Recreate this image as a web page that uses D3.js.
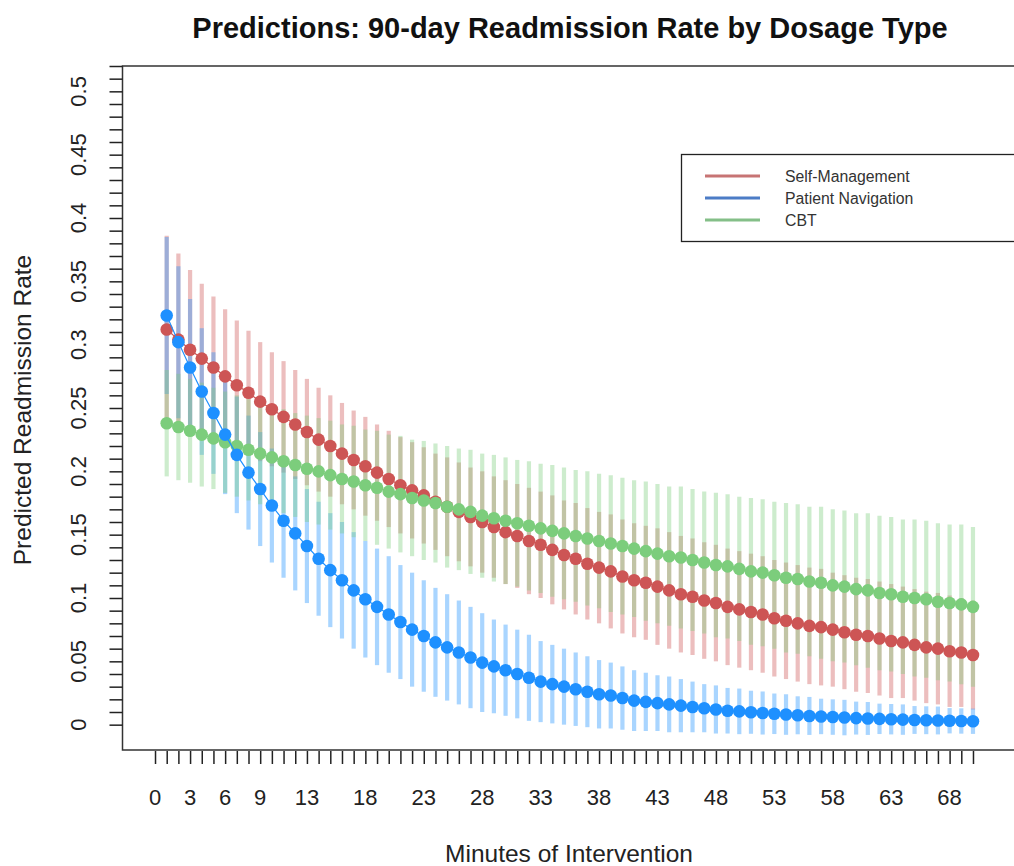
<!DOCTYPE html>
<html lang="en">
<head>
<meta charset="utf-8">
<title>Readmission predictions</title>
<script type="text/javascript" src="https://d3js.org/d3.v7.min.js"></script>
<style>
  body { margin: 0; background: #fff; }
  svg { display: block; font-family: "Liberation Sans", Arial, sans-serif; }
  .ticks line { stroke: #222; }
  .ticks path { display: none; }
</style>
</head>
<body>
<div id="container"></div>
<script type="text/javascript">
// minutes of intervention (x) and predicted rates (y), with CI half-widths
var minutes = [1,2,3,4,5,6,7,8,9,10,11,12,13,14,15,16,17,18,19,20,
  21,22,23,24,25,26,27,28,29,30,31,32,33,34,35,36,37,38,39,40,
  41,42,43,44,45,46,47,48,49,50,51,52,53,54,55,56,57,58,59,60,
  61,62,63,64,65,66,67,68,69,70];

var selfMgmt = [0.312,0.304,0.296,0.289,0.282,0.275,0.268,0.262,0.255,0.249,
  0.243,0.237,0.231,0.225,0.220,0.214,0.209,0.204,0.199,0.194,
  0.189,0.185,0.181,0.176,0.172,0.168,0.164,0.160,0.156,0.152,
  0.149,0.145,0.142,0.138,0.134,0.131,0.127,0.124,0.121,0.117,
  0.114,0.112,0.109,0.106,0.103,0.101,0.098,0.096,0.093,0.091,
  0.089,0.087,0.084,0.082,0.080,0.078,0.077,0.075,0.073,0.071,
  0.070,0.068,0.066,0.065,0.063,0.061,0.060,0.058,0.057,0.055];
var selfMgmtErr = [0.074,0.068,0.063,0.059,0.056,0.053,0.051,0.049,0.047,0.045,
  0.044,0.043,0.042,0.041,0.040,0.040,0.039,0.039,0.038,0.038,
  0.038,0.038,0.038,0.038,0.039,0.039,0.039,0.040,0.040,0.041,
  0.041,0.042,0.042,0.043,0.043,0.044,0.044,0.044,0.045,0.045,
  0.045,0.045,0.046,0.046,0.046,0.046,0.046,0.046,0.046,0.046,
  0.046,0.046,0.046,0.046,0.046,0.046,0.046,0.045,0.045,0.045,
  0.045,0.045,0.045,0.044,0.044,0.044,0.044,0.044,0.043,0.043];

var patientNav = [0.323,0.302,0.282,0.263,0.246,0.229,0.213,0.199,0.186,0.173,
  0.161,0.151,0.141,0.131,0.122,0.114,0.106,0.099,0.093,0.087,
  0.081,0.075,0.070,0.065,0.061,0.057,0.053,0.049,0.046,0.043,
  0.040,0.037,0.034,0.032,0.030,0.028,0.026,0.024,0.023,0.021,
  0.019,0.018,0.017,0.016,0.015,0.014,0.013,0.012,0.011,0.0105,
  0.0098,0.0092,0.0086,0.0080,0.0074,0.0069,0.0065,0.0060,0.0056,0.0052,
  0.0049,0.0046,0.0043,0.0040,0.0037,0.0035,0.0033,0.0031,0.0029,0.0027];
var patientNavErr = [0.062,0.060,0.054,0.050,0.048,0.047,0.046,0.045,0.045,0.045,
  0.045,0.045,0.045,0.045,0.045,0.046,0.046,0.046,0.046,0.046,
  0.045,0.045,0.044,0.043,0.042,0.041,0.040,0.039,0.037,0.036,
  0.035,0.034,0.032,0.031,0.030,0.029,0.028,0.027,0.026,0.025,
  0.024,0.023,0.022,0.022,0.021,0.020,0.019,0.019,0.018,0.018,
  0.017,0.017,0.016,0.016,0.015,0.015,0.014,0.014,0.014,0.013,
  0.013,0.012,0.012,0.012,0.011,0.011,0.011,0.010,0.010,0.010];

var cbt = [0.238,0.235,0.232,0.229,0.226,0.223,0.220,0.217,0.214,0.211,
  0.208,0.205,0.202,0.200,0.197,0.194,0.192,0.189,0.187,0.184,
  0.182,0.179,0.177,0.175,0.172,0.170,0.168,0.165,0.163,0.161,
  0.159,0.157,0.155,0.153,0.151,0.149,0.147,0.145,0.143,0.141,
  0.139,0.137,0.135,0.133,0.132,0.130,0.128,0.126,0.125,0.123,
  0.121,0.120,0.118,0.116,0.115,0.113,0.112,0.110,0.109,0.107,
  0.106,0.104,0.103,0.101,0.100,0.099,0.097,0.096,0.095,0.093];
var cbtErr = [0.042,0.042,0.041,0.041,0.040,0.040,0.040,0.040,0.040,0.040,
  0.041,0.041,0.042,0.042,0.043,0.043,0.044,0.044,0.045,0.045,
  0.046,0.046,0.047,0.047,0.048,0.048,0.049,0.049,0.050,0.050,
  0.050,0.051,0.051,0.052,0.052,0.052,0.053,0.053,0.054,0.054,
  0.054,0.055,0.055,0.055,0.056,0.056,0.056,0.057,0.057,0.057,
  0.058,0.058,0.058,0.059,0.059,0.059,0.060,0.060,0.060,0.060,
  0.061,0.061,0.061,0.061,0.062,0.062,0.062,0.062,0.063,0.063];

var seriesNames = ["Self-Management", "Patient Navigation", "CBT"];
var yTickLabels = [0, 0.05, 0.1, 0.15, 0.2, 0.25, 0.3, 0.35, 0.4, 0.45, 0.5];
var xTickLabels = [0, 3, 6, 9, 13, 18, 23, 28, 33, 38, 43, 48, 53, 58, 63, 68];

var w = 1014, h = 866;
var svg = d3.select("div#container").append("svg")
    .attr("width", w).attr("height", h);

var x = d3.scaleLinear().domain([-2.8, 72.8]).range([122.3, 1005.7]);
var y = d3.scaleLinear().domain([-0.02, 0.52]).range([750, 66]);

var cols = { sm: "#cd5555", pn: "#1e90ff", cbt: "#7ccd7c" };
var legendCols = ["#c77474", "#4c7cc6", "#84bf88"];

function rows(est, err) {
  return minutes.map(function(m, i) { return { m: m, v: est[i], e: err[i] }; });
}
var series = [
  { key: "sm",  data: rows(selfMgmt, selfMgmtErr) },
  { key: "pn",  data: rows(patientNav, patientNavErr) },
  { key: "cbt", data: rows(cbt, cbtErr) }
];

// error bars first
series.forEach(function(s) {
  svg.append("g").selectAll("line")
    .data(s.data).enter().append("line")
    .attr("x1", d => x(d.m)).attr("x2", d => x(d.m))
    .attr("y1", d => y(d.v - d.e)).attr("y2", d => y(d.v + d.e))
    .attr("stroke", cols[s.key])
    .attr("stroke-opacity", 0.38)
    .attr("stroke-width", 4.2);
});

// lines + points (red, green, then blue on top)
var line = d3.line().x(d => x(d.m)).y(d => y(d.v));
[series[0], series[2], series[1]].forEach(function(s) {
  svg.append("path").datum(s.data)
    .attr("d", line).attr("fill", "none")
    .attr("stroke", cols[s.key]).attr("stroke-width", 1.2);
  svg.append("g").selectAll("circle")
    .data(s.data).enter().append("circle")
    .attr("cx", d => x(d.m)).attr("cy", d => y(d.v))
    .attr("r", 6.3)
    .attr("fill", cols[s.key]);
});

// plot box (right side runs off the page)
svg.append("path")
  .attr("d", "M1030,66H122.5V750H1030")
  .attr("fill", "none").attr("stroke", "#333").attr("stroke-width", 1.5);

// y axis ticks every 0.01
var yAxis = d3.axisLeft(y).tickValues(d3.range(0, 53).map(i => i / 100))
  .tickSize(13).tickFormat("");
svg.append("g").attr("class", "ticks")
  .attr("transform", "translate(122.5,0)").call(yAxis)
  .selectAll("line").attr("stroke-width", 1.5);

svg.append("g").selectAll("text")
  .data(yTickLabels).enter().append("text")
  .attr("transform", d => "translate(86," + y(d) + ") rotate(-90)")
  .attr("text-anchor", "middle")
  .attr("font-size", "22px").attr("fill", "#222")
  .text(d => String(d));

// x axis ticks every minute
var xAxis = d3.axisBottom(x).tickValues(d3.range(0, 71))
  .tickSize(13).tickFormat("");
svg.append("g").attr("class", "ticks")
  .attr("transform", "translate(0,751)").call(xAxis)
  .selectAll("line").attr("stroke-width", 1.5);

svg.append("g").selectAll("text")
  .data(xTickLabels).enter().append("text")
  .attr("x", d => x(d)).attr("y", 805)
  .attr("text-anchor", "middle")
  .attr("font-size", "22px").attr("fill", "#222")
  .text(d => d);

// titles
svg.append("text")
  .attr("x", 570).attr("y", 38)
  .attr("text-anchor", "middle")
  .attr("font-size", "29px").attr("font-weight", "bold").attr("fill", "#111")
  .text("Predictions: 90-day Readmission Rate by Dosage Type");

svg.append("text")
  .attr("x", 569).attr("y", 862)
  .attr("text-anchor", "middle")
  .attr("font-size", "24.5px").attr("fill", "#222")
  .text("Minutes of Intervention");

svg.append("text")
  .attr("transform", "translate(31,410) rotate(-90)")
  .attr("text-anchor", "middle")
  .attr("font-size", "24.5px").attr("fill", "#222")
  .text("Predicted Readmission Rate");

// legend
var lg = svg.append("g");
lg.append("rect")
  .attr("x", 681.5).attr("y", 154.5).attr("width", 400).attr("height", 87)
  .attr("fill", "#fff").attr("stroke", "#222").attr("stroke-width", 1.3);
var items = lg.selectAll("g.item").data(seriesNames).enter().append("g")
  .attr("transform", (d, i) => "translate(0," + (176 + i * 22) + ")");
items.append("line")
  .attr("x1", 705).attr("x2", 760).attr("y1", 0).attr("y2", 0)
  .attr("stroke", (d, i) => legendCols[i]).attr("stroke-width", 3);
items.append("text")
  .attr("x", 785).attr("y", 5.5)
  .attr("font-size", "15.8px").attr("fill", "#333")
  .text(d => d);
</script>
</body>
</html>
